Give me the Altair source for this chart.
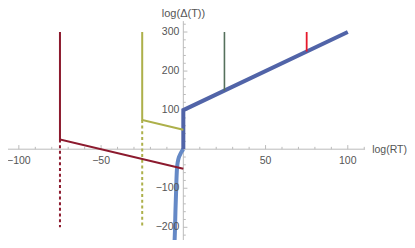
import altair as alt
import pandas as pd

# ---- data ----
dred_x = [-75, -75, 0];      dred_y = [300, 25, -50]
dred_dot_x = [-75, -75];     dred_dot_y = [25, -200]
olive_x = [-25, -25, 0];     olive_y = [300, 75, 50]
olive_dot_x = [-25, -25];    olive_dot_y = [75, -200]
green_x = [25, 25];          green_y = [300, 150]
red_x = [75, 75];            red_y = [300, 250]
blue_x = [0, 0, 100];        blue_y = [0, 100, 300]
curve_x = [0, -1.0, -1.9, -2.8, -3.4, -3.8, -4.1, -4.4, -4.8, -5.1, -5.5]
curve_y = [0, -6, -13, -22, -33, -47, -70, -110, -160, -210, -255]

x_major = [-100, -50, 50, 100]
x_minor = [-110, -90, -80, -70, -60, -40, -30, -20, -10, 10, 20, 30, 40, 60, 70, 80, 90, 110]
y_major = [-200, -100, 100, 200, 300]
y_minor = [-240, -220, -180, -160, -140, -120, -80, -60, -40, -20,
           20, 40, 60, 80, 120, 140, 160, 180, 220, 240, 260, 280, 320]
x_axis_ext = [-111, 110.5]
y_axis_ext = [-260, 328]

# ---- layout ----
W, H = 399, 232
xs = alt.Scale(domain=[-106.6, 136.0], nice=False, zero=False)
ys = alt.Scale(domain=[-232.5, 361.5], nice=False, zero=False)
AX = "#BBBBBB"
LAB = "#555555"
FONT = "Liberation Sans"


def X(f="x"):
    return alt.X(f"{f}:Q", scale=xs, axis=None)


def Y(f="y"):
    return alt.Y(f"{f}:Q", scale=ys, axis=None)


def seg(xv, yv, color, width, dash=None, clip=True, interp=None):
    df = pd.DataFrame({"x": xv, "y": yv, "i": list(range(len(xv)))})
    kw = dict(color=color, strokeWidth=width, clip=clip, strokeCap="butt")
    if dash:
        kw["strokeDash"] = dash
    if interp:
        kw["interpolate"] = interp
    return alt.Chart(df).mark_line(**kw).encode(x=X(), y=Y(), order="i:Q")


# axes lines
xaxis = alt.Chart(pd.DataFrame({"x": [x_axis_ext[0]], "x2": [x_axis_ext[1]], "y": [0]})).mark_rule(
    color=AX, strokeWidth=1).encode(x=X(), x2="x2:Q", y=Y())
yaxis = alt.Chart(pd.DataFrame({"y": [y_axis_ext[0]], "y2": [y_axis_ext[1]], "x": [0]})).mark_rule(
    color=AX, strokeWidth=1, clip=True).encode(y=Y(), y2="y2:Q", x=X())

# ticks
xt = pd.DataFrame({"x": x_major + x_minor,
                   "y": [0] * (len(x_major) + len(x_minor)),
                   "y2": [10.5] * len(x_major) + [6.0] * len(x_minor)})
xticks = alt.Chart(xt).mark_rule(color=AX, strokeWidth=1).encode(x=X(), y=Y(), y2="y2:Q")
yt = pd.DataFrame({"y": y_major + y_minor,
                   "x": [0] * (len(y_major) + len(y_minor)),
                   "x2": [2.5] * len(y_major) + [1.5] * len(y_minor)})
yticks = alt.Chart(yt).mark_rule(color=AX, strokeWidth=1, clip=True).encode(y=Y(), x=X(), x2="x2:Q")

# tick labels
def fmt(v):
    return ("\u2212" + str(-v)) if v < 0 else str(v)

xl = pd.DataFrame({"x": x_major, "y": [0] * len(x_major), "t": [fmt(v) for v in x_major]})
xlabels = alt.Chart(xl).mark_text(font=FONT, fontSize=10.5, color=LAB, baseline="middle",
                                  align="center", dy=11.5).encode(x=X(), y=Y(), text="t:N")
yl = pd.DataFrame({"y": y_major, "x": [0] * len(y_major), "t": [fmt(v) for v in y_major]})
ylabels = alt.Chart(yl).mark_text(font=FONT, fontSize=10.5, color=LAB, baseline="middle",
                                  align="right", dx=-4).encode(x=X(), y=Y(), text="t:N")

# axis titles
xtitle = alt.Chart(pd.DataFrame({"t": ["log(RT)"]})).mark_text(
    font=FONT, fontSize=10.5, color=LAB, align="right", baseline="middle").encode(
    x=alt.value(399), y=alt.value(142), text="t:N")
ytitle = alt.Chart(pd.DataFrame({"t": ["log(\u0394(T))"]})).mark_text(
    font=FONT, fontSize=11, color=LAB, align="center", baseline="top").encode(
    x=alt.value(175.5), y=alt.value(0), text="t:N")

layers = [
    xaxis, yaxis, xticks, yticks,
    seg(curve_x, curve_y, "#6589C6", 4, interp="catmull-rom"),
    seg(blue_x, blue_y, "#5164A8", 4),
    seg(olive_dot_x, olive_dot_y, "#ADB04A", 2, [3, 2.7]),
    seg(olive_x, olive_y, "#ADB04A", 2),
    seg(dred_dot_x, dred_dot_y, "#8C1A2E", 2, [3, 2.7]),
    seg(dred_x, dred_y, "#8C1A2E", 2),
    seg(green_x, green_y, "#55705C", 1.6),
    seg(red_x, red_y, "#E6192B", 1.8),
    xlabels, ylabels, xtitle, ytitle,
]

chart = alt.layer(*layers).properties(
    width=W, height=H,
    autosize=alt.AutoSizeParams(type="none"),
    padding=0,
).configure_view(stroke=None)

chart.save("out.html", embed_options={"renderer": "svg", "actions": False})
